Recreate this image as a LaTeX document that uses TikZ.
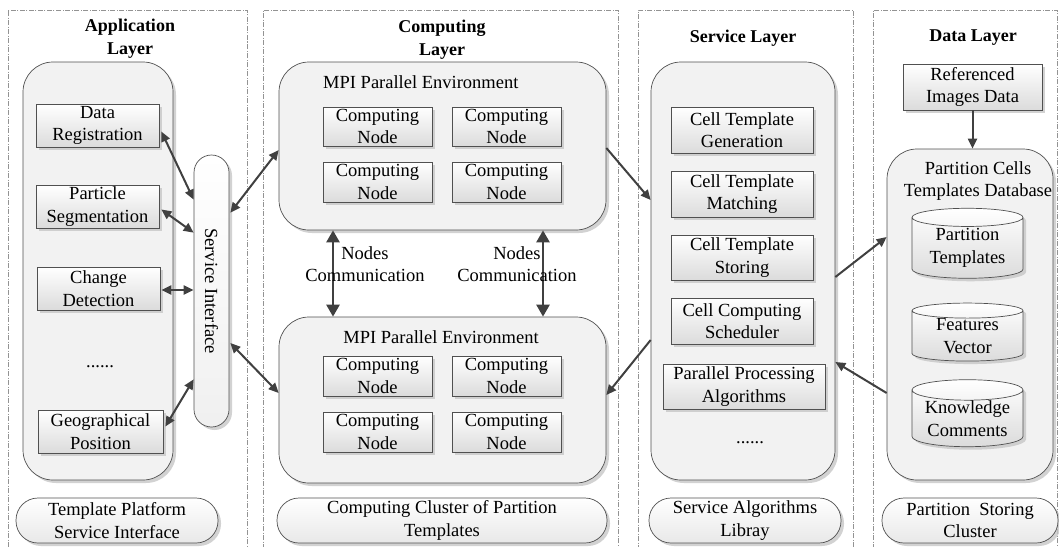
\documentclass[tikz,border=0pt]{standalone}
\usepackage{fontspec}
\usepackage{graphicx}
\setmainfont{Liberation Serif}
\usetikzlibrary{arrows.meta,shapes.geometric,shadows,calc}
\definecolor{arrowgray}{HTML}{404040}
\definecolor{linegray}{HTML}{505050}
\begin{document}
\begin{tikzpicture}[x=1pt,y=-1pt,
  every node/.style={font=\fontsize{18.5}{22.5}\selectfont, align=center, inner sep=0pt, text=black},
  layerframe/.style={draw=gray!85, line width=0.6pt, dash pattern=on 5pt off 1.5pt on 1pt off 1.5pt, minimum height=538pt},
  titletext/.style={font=\fontsize{18}{23}\selectfont\bfseries},
  shade/.style={drop shadow={shadow xshift=3pt, shadow yshift=-3pt, fill=black!22, opacity=0.8}},
  panel/.style={draw=linegray, line width=0.7pt, rounded corners=30pt, fill=black!5, shade},
  box/.style={draw=linegray, line width=0.7pt, top color=white, bottom color=black!14, shade},
  footer/.style={draw=linegray, line width=0.7pt, rounded corners=22pt, top color=white, bottom color=black!9, shade, minimum height=45pt},
  db/.style={cylinder, shape border rotate=90, aspect=0.24, draw=linegray, line width=0.7pt, top color=white, bottom color=black!14, shade, minimum width=111pt},
  arr/.style={draw=arrowgray, line width=2pt, -{Triangle[length=10pt,width=9pt]}},
  barr/.style={draw=arrowgray, line width=2pt, {Triangle[length=10pt,width=9pt]}-{Triangle[length=10pt,width=9pt]}},
  comm/.style={draw=arrowgray, line width=2.5pt, {Triangle[length=12pt,width=13pt]}-{Triangle[length=12pt,width=13pt]}}
]
\useasboundingbox (0,0) rectangle (1059,546);

% layer frames
\node[layerframe, minimum width=239pt] (fA) at (127.5,279) {};
\node[layerframe, minimum width=355pt] (fC) at (440.5,279) {};
\node[layerframe, minimum width=215pt] (fS) at (745.5,279) {};
\node[layerframe, minimum width=184pt] (fD) at (965,279) {};

% titles
\node[titletext] (tA) at (130,38.5) {Application\\Layer};
\node[titletext] (tC) at (442,39.5) {Computing\\Layer};
\node[titletext] (tS) at (743,38) {Service Layer};
\node[titletext] (tD) at (973,38) {Data Layer};

% application layer
\node[panel, minimum width=150pt, minimum height=418pt] (appP) at (98,271) {};
\node[box, minimum width=123pt, minimum height=43pt] (dr) at (97.5,125.5) {Data\\Registration};
\node[box, minimum width=123pt, minimum height=43pt] (ps) at (97.5,206.5) {Particle\\Segmentation};
\node[box, minimum width=123pt, minimum height=43pt] (cd) at (98.5,288.5) {Change\\Detection};
\node (dotA) at (100,367) {......};
\node[box, minimum width=125pt, minimum height=43pt] (gp) at (100.5,431.5) {Geographical\\Position};
\node[draw=linegray, line width=0.7pt, rounded corners=17.5pt, top color=white, bottom color=black!6, shade, minimum width=35pt, minimum height=272pt] (si) at (211.5,291) {\rotatebox{-90}{Service Interface}};
\node[footer, minimum width=202pt] (fta) at (117,520.5) {Template Platform\\Service Interface};

% computing layer
\node[panel, minimum width=327pt, minimum height=168pt] (mpi1) at (442.5,146) {};
\node[anchor=west] (mpil1) at (323,82) {MPI Parallel Environment};
\node[box, minimum width=109pt, minimum height=39pt] (cn1) at (377.5,126.5) {Computing\\Node};
\node[box, minimum width=109pt, minimum height=39pt] (cn2) at (506.5,126.5) {Computing\\Node};
\node[box, minimum width=109pt, minimum height=40pt] (cn3) at (377.5,182) {Computing\\Node};
\node[box, minimum width=109pt, minimum height=40pt] (cn4) at (506.5,182) {Computing\\Node};

\node[panel, minimum width=327pt, minimum height=166pt] (mpi2) at (442.5,400) {};
\node (mpil2) at (441,337) {MPI Parallel Environment};
\node[box, minimum width=109pt, minimum height=40pt] (cn5) at (377.5,376) {Computing\\Node};
\node[box, minimum width=109pt, minimum height=40pt] (cn6) at (506.5,376) {Computing\\Node};
\node[box, minimum width=109pt, minimum height=40pt] (cn7) at (377.5,432) {Computing\\Node};
\node[box, minimum width=109pt, minimum height=40pt] (cn8) at (506.5,432) {Computing\\Node};
\node[footer, minimum width=330pt] (ftc) at (442,520.5) {Computing Cluster of Partition\\Templates};

\coordinate (cl) at (333,0);
\coordinate (cr) at (543,0);
\draw[comm] (mpi1.south -| cl) -- (mpi2.north -| cl);
\draw[comm] (mpi1.south -| cr) -- (mpi2.north -| cr);
\node (ncl) at (365,264) {Nodes\\Communication};
\node (ncr) at (517,264) {Nodes\\Communication};

% service layer
\node[panel, minimum width=184pt, minimum height=418pt] (svP) at (743,271) {};
\node[box, minimum width=142pt, minimum height=46pt] (ctg) at (742,130) {Cell Template\\Generation};
\node[box, minimum width=142pt, minimum height=46pt] (ctm) at (742,194) {Cell Template\\Matching};
\node[box, minimum width=142pt, minimum height=45pt] (cts) at (742,257.5) {Cell Template\\Storing};
\node[box, minimum width=142pt, minimum height=46pt] (ccs) at (742,321) {Cell Computing\\Scheduler};
\node[box, minimum width=162pt, minimum height=45pt] (ppa) at (744,386.5) {Parallel Processing\\Algorithms};
\node (dotS) at (750,443) {......};
\node[footer, minimum width=192pt] (fts) at (745,520.5) {Service Algorithms\\Libray};

% data layer
\node[box, minimum width=139pt, minimum height=46pt] (rid) at (972.5,87) {Referenced\\Images Data};
\node[panel, minimum width=166pt, minimum height=331pt] (dbP) at (970,314.5) {};
\node (dbt) at (978,181) {Partition Cells\\Templates Database};
\node[db, minimum height=70pt] (pt) at (967.5,248) {Partition\\Templates};
\node[db, minimum height=58pt] (fv) at (967.5,336) {Features\\Vector};
\node[db, minimum height=67pt] (kc) at (967.5,418.5) {Knowledge\\Comments};
\node[footer, minimum width=176pt] (ftd) at (970,520.5) {Partition\ \ Storing\\Cluster};

% connectors
\draw[barr] ($(dr.east)+(2,6)$) -- ($(si.north west)+(0,45)$);
\draw[barr] ($(ps.east)+(2,3)$) -- ($(si.north west)+(0,78)$);
\draw[barr] ($(cd.east)+(1,1.5)$) -- ($(cd.east -| si.west)+(0,1.5)$);
\draw[barr] ($(gp.east)+(2,-5)$) -- ($(si.south west)+(0,-48)$);
\draw[barr] ($(si.north east)+(1,58)$) -- ($(mpi1.west)+(0,4)$);
\draw[barr] ($(si.east)+(1,52)$) -- ($(mpi2.west)+(0,-7)$);
\draw[arr] ($(mpi1.east)+(0,2)$) -- ($(svP.west)+(0,-71)$);
\draw[arr] ($(svP.west)+(0,69)$) -- ($(mpi2.east)+(0,-5)$);
\draw[arr] ($(svP.east)+(0,6)$) -- ($(dbP.west)+(0,-77.5)$);
\draw[arr] ($(dbP.west)+(0,78.5)$) -- ($(svP.east)+(0,91)$);
\draw[arr] (rid.south) -- (rid.south |- dbP.north);
\end{tikzpicture}
\end{document}
